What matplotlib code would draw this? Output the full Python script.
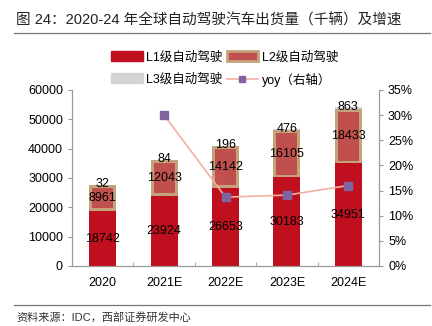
import numpy as np
import matplotlib.pyplot as plt
from matplotlib.lines import Line2D

plt.rcParams['font.family'] = ['Liberation Sans', 'Noto Sans CJK SC', 'DejaVu Sans']

# data
years = ['2020', '2021E', '2022E', '2023E', '2024E']
l1 = [18742, 23924, 26653, 30183, 34951]
l2 = [8961, 12043, 14142, 16105, 18433]
l3 = [32, 84, 196, 476, 863]
yoy = [None, 30.0, 13.7, 14.1, 16.0]

c_l1 = '#c00f1e'
c_l2 = '#c0504d'
c_l2_edge = '#c4a27c'
c_l3 = '#d4d4d4'
c_line = '#f2b0a0'
c_mark = '#8064a2'

fig = plt.figure(figsize=(4.32, 3.26), dpi=100)
ax = fig.add_axes([72/432, 1-266/326, (379-72)/432, (266-90)/326])
ax2 = ax.twinx()

x = np.arange(len(years))
w = 0.44
l1 = np.array(l1)
l2 = np.array(l2)
l3 = np.array(l3)

# L2 drawn as a tan outer bar with the red fill inset inside it
inset = 1000  # ~3 px of the 60000 scale
ax.bar(x, l1, w, color=c_l1, zorder=2)
ax.bar(x, l2, w, bottom=l1, color=c_l2_edge, zorder=2)
ax.bar(x, l2 - 2 * inset, w * 0.78, bottom=l1 + inset, color=c_l2, zorder=3)
ax.bar(x, l3, w, bottom=l1 + l2, color=c_l3, zorder=2)

for i in range(len(years)):
    ax.text(x[i], l1[i] / 2, str(l1[i]), ha='center', va='center', fontsize=9, zorder=5)
    ax.text(x[i], l1[i] + l2[i] / 2, str(l2[i]), ha='center', va='center', fontsize=9, zorder=5)
    ax.text(x[i], l1[i] + l2[i] + l3[i] / 2 + 300, str(l3[i]), ha='center', va='center', fontsize=9, zorder=5)

yx = [i for i in range(len(years)) if yoy[i] is not None]
yv = [yoy[i] for i in yx]
ax2.plot(yx, yv, color=c_line, lw=1.2, marker='s', ms=6, mfc=c_mark, mec=c_mark, zorder=4)

ax.set_xlim(-0.5, 4.5)
ax.set_ylim(0, 60000)
ax.set_yticks(np.arange(0, 60001, 10000))
ax2.set_ylim(0, 35)
ax2.set_yticks(np.arange(0, 36, 5))
ax2.set_yticklabels([f'{v}%' for v in range(0, 36, 5)])

ax.set_xticks(x)
ax.set_xticklabels(years)
ax.set_xticks(np.arange(0.5, 4, 1), minor=True)
ax.tick_params(axis='x', which='major', length=0, labelsize=9, pad=8)
ax.tick_params(axis='x', which='minor', length=3, direction='in', color='#999999')
ax.tick_params(axis='y', labelsize=9, length=3, color='#999999')
ax2.tick_params(axis='y', labelsize=9, length=3, color='#999999')

for a in (ax, ax2):
    a.spines['top'].set_visible(False)
    for s in ('left', 'right', 'bottom'):
        a.spines[s].set_color('#999999')
ax.set_zorder(ax2.get_zorder() - 1)
ax2.patch.set_visible(False)

# legend (order arranged so rows read L1, L2 / L3, yoy)
h_l1 = plt.Rectangle((0, 0), 1, 1, fc=c_l1, ec=c_l1)
h_l2 = plt.Rectangle((0, 0), 1, 1, fc=c_l2, ec=c_l2_edge, lw=2)
h_l3 = plt.Rectangle((0, 0), 1, 1, fc=c_l3, ec=c_l3)
h_yoy = Line2D([], [], color=c_line, lw=1.2, marker='s', ms=5, mfc=c_mark, mec=c_mark)
fig.legend([h_l1, h_l3, h_l2, h_yoy],
           ['L1级自动驾驶', 'L3级自动驾驶', 'L2级自动驾驶', 'yoy（右轴）'],
           loc='center', bbox_to_anchor=(0.52, 1 - 69/326), ncol=2,
           frameon=False, fontsize=9, handlelength=2.5, handleheight=0.9,
           columnspacing=0.3, handletextpad=0.3, labelspacing=0.75)

fig.text(16/432, 1 - 20/326, '图 24：2020-24 年全球自动驾驶汽车出货量（千辆）及增速',
         fontsize=10.5, va='center', ha='left', color='#222222')
fig.add_artist(Line2D([14/432, 430/432], [1 - 33/326, 1 - 33/326], color='#777777', lw=0.9))
fig.add_artist(Line2D([14/432, 430/432], [1 - 305/326, 1 - 305/326], color='#777777', lw=0.9))
fig.text(16/432, 1 - 317/326, '资料来源：IDC，西部证券研发中心', fontsize=8, va='center', ha='left',
         color='#333333')

fig.savefig('out.png', dpi=100)
